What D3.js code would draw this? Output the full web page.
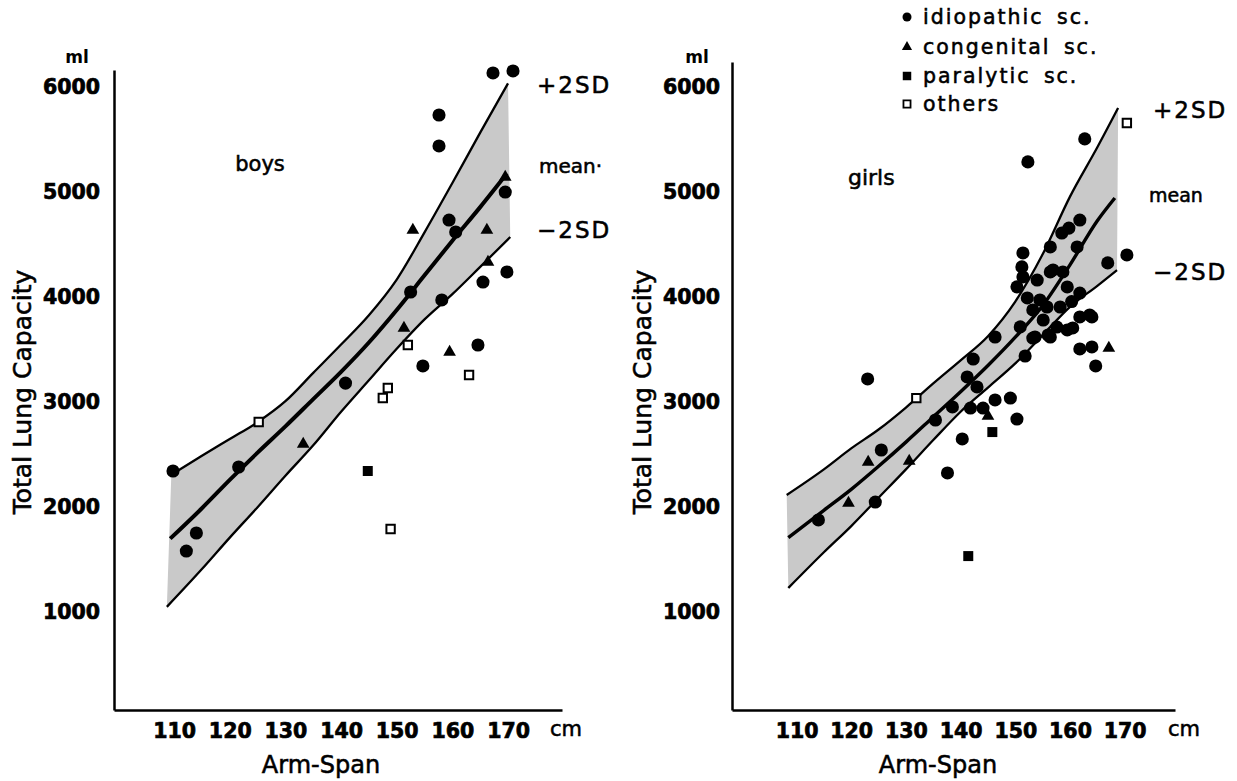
<!DOCTYPE html>
<html><head><meta charset="utf-8">
<script src="https://cdn.jsdelivr.net/npm/d3@7"></script>
<style>
body{margin:0;background:#fff}
svg{display:block}
text{font-family:"DejaVu Sans",sans-serif;fill:#000}
.t{stroke:#000;stroke-width:0.55px}
</style>
</head><body>
<svg id="c" width="1237" height="781"></svg>
<script>
// ---------- data ----------
const xTicks = [110,120,130,140,150,160,170];
const yTicks = [1000,2000,3000,4000,5000,6000];
const legendLabels = ["idiopathic sc.","congenital sc.","paralytic sc.","others"];
const bandLabels = ["+2SD","mean","\u22122SD"];
const panelLabels = ["boys","girls"];

const boysUpper = [[109.5,2300],[115,2480],[120,2640],[125,2800],[130,3000],[135,3270],[140,3540],[145,3820],[150,4160],[155,4610],[160,5080],[165,5560],[170,6030]];
const boysMean  = [[109.3,1690],[115,1980],[120,2250],[125,2510],[130,2760],[135,3020],[140,3280],[145,3560],[150,3870],[155,4200],[160,4530],[165,4850],[169.8,5170]];
const boysLower = [[108.7,1040],[115,1400],[120,1700],[125,1990],[130,2290],[135,2580],[140,2900],[145,3200],[150,3500],[155,3780],[160,4020],[165,4280],[170.4,4565]];

const girlsUpper = [[108.2,2106],[115,2350],[120,2550],[125,2730],[130,2940],[135,3170],[140,3390],[145,3620],[150,3950],[155,4400],[160,4950],[165,5420],[168.8,5795]];
const girlsMean  = [[108.5,1700],[115,1960],[120,2160],[125,2380],[130,2610],[135,2850],[140,3090],[145,3340],[150,3610],[155,3910],[160,4300],[165,4720],[168.2,4937]];
const girlsLower = [[108.5,1220],[115,1560],[120,1810],[125,2080],[130,2350],[135,2630],[140,2900],[145,3130],[150,3360],[155,3630],[160,3900],[165,4100],[168.6,4250]];

const boysIdiopathic = [[109.8,2335],[112.2,1572],[114,1744],[121.6,2373],[140.8,3173],[154.7,3336],[164.6,3536],[167.3,6129],[170.9,6148],[157.6,5728],[157.6,5433],[159.4,4727],[160.6,4613],[169.5,4994],[169.8,4232],[165.5,4136],[152.5,4041],[158.1,3965]];
const boysCongenital = [[133.2,2592],[152.9,4632],[159.5,3469],[166.2,4632],[169.5,5137],[166.4,4327],[151.3,3698]];
const boysParalytic  = [[144.8,2335]];
const boysOthers     = [[125.2,2802],[148.9,1782],[147.5,3031],[148.4,3126],[152,3536],[163,3250]];

const girlsIdiopathic = [[114,1868],[123,3212],[124.4,2039],[125.5,2535],[135.4,2821],[137.6,2316],[138.5,2945],[140.3,2640],[141.2,3231],[141.8,2935],[142.3,3402],[143,3136],[144.1,2935],[146.3,3612],[146.3,3012],[149.1,3030],[150.3,2830],[151.8,3431],[153.2,3602],
  [152.3,5281],[162.7,5500],[170.4,4394],[166.9,4318],[161.8,4727],[158.5,4603],[161.3,4470],[156.4,4470],[151.4,4413],[151.2,4280],[150.3,4090],[154,4155],[156.4,4232],[158.7,4232],[161.8,4031],[152.2,3984],[155.8,3898],[163.6,3822],[164,3803],[161.8,3498],[164,3517],[164.7,3336],[151.4,4184],[153.2,3870],[150.9,3708],[153.6,3612],[156,3631],[160.5,3698],
  [156.9,4251],[159.5,4089],[154.5,3965],[158.2,3898],[161.8,3803],[155.1,3774],[157.6,3707],[159.5,3679],[156.4,3612],[159.8,4650],[160.3,3950]];
const girlsCongenital = [[119.5,2030],[123.1,2420],[130.6,2430],[145,2859],[167.1,3507]];
const girlsParalytic  = [[145.8,2706],[141.4,1524]];
const girlsOthers     = [[131.9,3030],[170.4,5652]];

// ---------- drawing ----------
const svg = d3.select("#c");

const symbols = [
  {type:d3.symbolCircle, size:135, fill:"#000", stroke:"none"},
  {type:d3.symbolTriangle, size:70, fill:"#000", stroke:"none"},
  {type:d3.symbolSquare, size:100, fill:"#000", stroke:"none"},
  {type:d3.symbolSquare, size:70, fill:"#fff", stroke:"#000"}
];

const panels = [
  {label:panelLabels[0], xDom:[99.2,179.7], xRng:[114,562], yDom:[57,6157], yRng:[710,70],
   upper:boysUpper, mean:boysMean, lower:boysLower,
   pts:[boysIdiopathic,boysCongenital,boysParalytic,boysOthers],
   mlX:77, tickX:100, titleX:22, armX:321, cmX:566, lblX:260, lblY:171,
   sd:{x:537, p:93, m:173, mx:539, n:238}, meanText:"mean\u00b7", meanSize:20},
  {label:panelLabels[1], xDom:[98.2,179.2], xRng:[732,1175], yDom:[57,6233], yRng:[710,62],
   upper:girlsUpper, mean:girlsMean, lower:girlsLower,
   pts:[girlsIdiopathic,girlsCongenital,girlsParalytic,girlsOthers],
   mlX:697, tickX:720, titleX:642, armX:938, cmX:1184, lblX:848, lblY:185,
   sd:{x:1153, p:118, m:202, mx:1149, n:280}, meanText:"mean", meanSize:19}
];

panels.forEach((p,pi) => {
  const x = d3.scaleLinear().domain(p.xDom).range(p.xRng);
  const y = d3.scaleLinear().domain(p.yDom).range(p.yRng);
  const g = svg.append("g");

  const line = d3.line().x(d=>x(d[0])).y(d=>y(d[1])).curve(d3.curveMonotoneX);
  const upPath = line(p.upper);
  const loPath = line(p.lower.slice().reverse());
  g.append("path").attr("d", upPath + loPath.replace(/^M/,"L") + "Z")
    .attr("fill","#c9c9c9").attr("stroke","none");
  g.append("path").attr("d", line(p.upper)).attr("fill","none").attr("stroke","#000").attr("stroke-width",2.3);
  g.append("path").attr("d", line(p.lower)).attr("fill","none").attr("stroke","#000").attr("stroke-width",2.3);
  g.append("path").attr("d", line(p.mean)).attr("fill","none").attr("stroke","#000").attr("stroke-width",pi===0?4:3.4);

  // axes
  const ax = g.append("g").attr("transform",`translate(0,${p.yRng[0]})`)
    .call(d3.axisBottom(x).tickValues(xTicks).tickFormat(d3.format("d")).tickSize(0).tickSizeOuter(0).tickPadding(13));
  const ay = g.append("g").attr("transform",`translate(${p.xRng[0]},0)`)
    .call(d3.axisLeft(y).tickValues(yTicks).tickFormat(d3.format("d")).tickSize(0).tickSizeOuter(0).tickPadding(p.xRng[0]-p.tickX));
  [ax,ay].forEach(a => {
    a.select(".domain").attr("stroke","#000").attr("stroke-width",2.5);
    a.selectAll("text").attr("font-family","DejaVu Sans").attr("font-weight","bold").attr("font-size",20.5)
      .attr("fill","#000").attr("stroke","#000").attr("stroke-width",0.7);
  });
  ay.selectAll("text").attr("dy","0.36em");

  // points
  p.pts.forEach((arr,k) => {
    const s = symbols[k];
    g.selectAll(null).data(arr).enter().append("path")
      .attr("d", d3.symbol().type(s.type).size(s.size))
      .attr("transform", d => `translate(${x(d[0])},${y(d[1])})`)
      .attr("fill", s.fill).attr("stroke", s.stroke).attr("stroke-width", k===3?2:0);
  });

  // texts
  g.append("text").attr("x",p.mlX).attr("y",63).attr("text-anchor","middle")
    .attr("font-size",17).attr("font-weight","bold").text("ml");
  g.append("text").attr("class","t").attr("transform",`translate(${p.titleX+9},392) rotate(-90)`).attr("text-anchor","middle")
    .attr("font-size",25).text("Total Lung Capacity");
  g.append("text").attr("class","t").attr("x",p.armX).attr("y",773).attr("text-anchor","middle")
    .attr("font-size",24).text("Arm-Span");
  g.append("text").attr("class","t").attr("x",p.cmX).attr("y",736).attr("text-anchor","middle")
    .attr("font-size",21).text("cm");
  g.append("text").attr("class","t").attr("x",p.lblX).attr("y",p.lblY).attr("text-anchor",pi===0?"middle":"start")
    .attr("font-size",pi===0?21:22).text(p.label);
  g.append("text").attr("class","t").attr("x",p.sd.x).attr("y",p.sd.p).attr("font-size",23).attr("letter-spacing",2).text(bandLabels[0]);
  g.append("text").attr("class","t").attr("x",p.sd.mx).attr("y",p.sd.m).attr("font-size",p.meanSize).text(p.meanText);
  g.append("text").attr("class","t").attr("x",p.sd.x).attr("y",p.sd.n).attr("font-size",23).attr("letter-spacing",2).text(bandLabels[2]);
});

// legend
const legSymbols = [
  {type:d3.symbolCircle, size:64, fill:"#000", stroke:"none"},
  {type:d3.symbolTriangle, size:45, fill:"#000", stroke:"none"},
  {type:d3.symbolSquare, size:72, fill:"#000", stroke:"none"},
  {type:d3.symbolSquare, size:50, fill:"#fff", stroke:"#000"}
];
const legRows = [17,47,76,104];
const leg = svg.append("g");
legendLabels.forEach((t,i) => {
  const s = legSymbols[i];
  leg.append("path").attr("d", d3.symbol().type(s.type).size(s.size)())
    .attr("transform",`translate(907,${legRows[i]})`)
    .attr("fill",s.fill).attr("stroke",s.stroke).attr("stroke-width",i===3?1.8:0);
  leg.append("text").attr("class","t").attr("x",923).attr("y",legRows[i]+7).attr("font-size",20.5)
    .attr("letter-spacing",2).attr("word-spacing",5).text(t);
});
</script>
</body></html>
